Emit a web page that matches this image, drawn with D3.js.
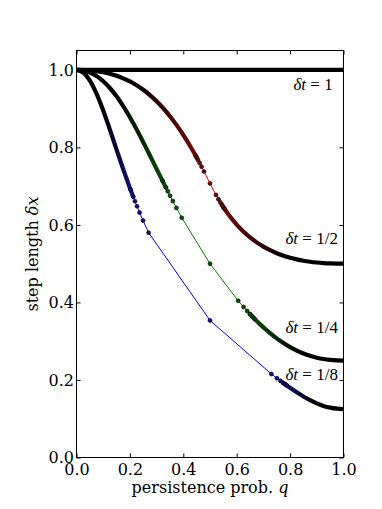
<!DOCTYPE html>
<html><head><meta charset="utf-8">
<script src="https://cdn.jsdelivr.net/npm/d3@7"></script>
<style>body{margin:0;background:#fff}</style>
</head><body>
<svg id="c" width="382" height="509"></svg>
<script>
// ---- data ----
const xTicks = [0, 0.2, 0.4, 0.6, 0.8, 1.0];
const yTicks = [0, 0.2, 0.4, 0.6, 0.8, 1.0];
const seriesNames = ["1", "1/2", "1/4", "1/8"];

// delta t = 1
const oneQ  = [0, 0.25, 0.5, 0.75, 1];
const oneDx = [1, 1, 1, 1, 1];

// delta t = 1/2 (red)
const halfBandQ  = [0, .025, .05, .075, .1, .125, .15, .175, .2, .225, .25, .275, .3, .325, .35, .375, .4, .4134, .42929, .43675, .44523, .45,
                    .54472, .55, .55477, .56325, .57071, .5866, .6, .625, .65, .675, .7, .725, .75, .775, .8, .825, .85, .875, .9, .925, .95, .975, 1];
const halfBandDx = [1, .99967, .99862, .99673, .99388, .98995, .98478, .97824, .97014, .96035, .94868, .935, .91915, .901, .88047, .85749, .83205, .81741, .79915, .79025, .7799, .77395,
                    .65165, .64603, .64111, .63271, .62566, .61169, .60093, .5831, .56788, .55494, .54399, .53476, .52705, .52065, .51539, .51113, .50772, .50507, .50308, .50164, .50069, .50016, .5];
const halfDotQ  = [.44523, .45, .45528, .46127, .46838, .47764, .5, .52236, .53162, .53873, .54472, .55, .55477];
const halfDotDx = [.7799, .77395, .76729, .7596, .75033, .73799, .70711, .67751, .66637, .65823, .65165, .64603, .64111];

// delta t = 1/4 (green)
const quarterBandQ  = [0, .025, .05, .075, .1, .125, .15, .175, .2, .225, .25, .27639, .29191, .31197, .32217, .33451,
                       .64953, .65811, .66549, .67783, .68803, .70809, .72361, .75, .775, .8, .825, .85, .875, .9, .925, .95, .975, 1];
const quarterBandDx = [1, .99837, .99317, .98403, .97077, .95329, .93171, .90639, .8778, .84659, .81349, .77728, .75571, .72783, .71374, .69683,
                       .37023, .364, .35877, .35027, .34348, .33081, .32164, .30732, .2953, .2848, .27582, .26832, .26225, .25753, .25406, .25172, .25041, .25];
const quarterDotQ  = [.32217, .33451, .34189, .35047, .36084, .37426, .39426, .5, .60574, .62574, .63916, .64953, .65811, .66549];
const quarterDotDx = [.71374, .69683, .68681, .67526, .66148, .64394, .61852, .5, .40419, .38824, .37794, .37023, .364, .35877];

// delta t = 1/8 (blue)
const eighthBandQ  = [0, .025, .05, .075, .1, .125, .15, .175, .1934, .20182, .21235,
                      .77343, .78117, .78765, .79818, .8066, .825, .85, .875, .9, .925, .95, .975, 1];
const eighthBandDx = [1, .99318, .97241, .93883, .8954, .84602, .79443, .74356, .70774, .69197, .67281,
                      .1929, .18901, .18579, .18064, .17662, .16811, .15735, .14775, .1396, .13314, .12855, .12586, .125];
const eighthDotQ  = [.20182, .21235, .21883, .22657, .23622, .24925, .27006, .5, .72994, .75075, .76378, .77343, .78117, .78765];
const eighthDotDx = [.69197, .67281, .66135, .64802, .63194, .61114, .58009, .35355, .21548, .20454, .1978, .1929, .18901, .18579];

// ---- layout ----
const W = 382, H = 509, L = 76.5, R = 343.5, T = 50.5, B = 457.5;
const x = d3.scaleLinear().domain([0, 1]).range([L, R]);
const y = d3.scaleLinear().domain([0, 1.05]).range([B, T]);

const svg = d3.select('#c');
svg.append('rect').attr('width', W).attr('height', H).attr('fill', '#fff');
const defs = svg.append('defs');
defs.append('clipPath').attr('id', 'clip').append('rect')
  .attr('x', L).attr('y', T).attr('width', R - L).attr('height', B - T);

const series = [
  {name: seriesNames[0], bq: oneQ, bd: oneDx, dq: [], dd: [], color: '#000', tint: '#000', lx: 0.9596, ly: 0.948},
  {name: seriesNames[1], bq: halfBandQ, bd: halfBandDx, dq: halfDotQ, dd: halfDotDx, color: '#ff0000', tint: '#6e0d0d', lx: 0.979, ly: 0.551},
  {name: seriesNames[2], bq: quarterBandQ, bd: quarterBandDx, dq: quarterDotQ, dd: quarterDotDx, color: '#008000', tint: '#0d4d0d', lx: 0.979, ly: 0.321},
  {name: seriesNames[3], bq: eighthBandQ, bd: eighthBandDx, dq: eighthDotQ, dd: eighthDotDx, color: '#0000ff', tint: '#12127a', lx: 0.979, ly: 0.2}
];

const plot = svg.append('g').attr('clip-path', 'url(#clip)');
const lineLin = d3.line().x(d => x(d[0])).y(d => y(d[1]));
const lineSmooth = d3.line().x(d => x(d[0])).y(d => y(d[1])).curve(d3.curveCatmullRom.alpha(0.5));

series.forEach((s, i) => {
  const band = s.bq.map((q, j) => [q, s.bd[j]]);
  const dots = s.dq.map((q, j) => [q, s.dd[j]]);
  // split band into continuous pieces (only where a sparse run of markers sits in between)
  const pieces = [];
  let cur = [];
  band.forEach((p, j) => {
    if (dots.length && j > 0 && p[0] - band[j - 1][0] > 0.05) { pieces.push(cur); cur = []; }
    cur.push(p);
  });
  pieces.push(cur);
  // gradient: black where markers are densest, tinted near the sparse part
  const grad = defs.append('linearGradient').attr('id', 'g' + i)
    .attr('gradientUnits', 'userSpaceOnUse')
    .attr('x1', x(0)).attr('x2', x(1)).attr('y1', 0).attr('y2', 0);
  if (pieces.length === 2) {
    const qL = pieces[0][pieces[0].length - 1][0], qR = pieces[1][0][0];
    [[0, '#000'], [qL * 0.45, '#000'], [qL, s.tint], [qR, s.tint], [qR + (1 - qR) * 0.55, '#000'], [1, '#000']]
      .forEach(st => grad.append('stop').attr('offset', st[0]).attr('stop-color', st[1]));
  } else {
    [[0, '#000'], [1, '#000']].forEach(st => grad.append('stop').attr('offset', st[0]).attr('stop-color', st[1]));
  }
  // thin connecting line through all points
  const all = band.concat(dots).sort((a, b) => a[0] - b[0]);
  plot.append('path').attr('d', lineLin(all)).attr('fill', 'none')
    .attr('stroke', s.color).attr('stroke-width', 1);
  // dense marker band
  pieces.forEach(pc => {
    plot.append('path').attr('d', lineSmooth(pc)).attr('fill', 'none')
      .attr('stroke', 'url(#g' + i + ')').attr('stroke-width', 4.2)
      .attr('stroke-linecap', 'round').attr('stroke-linejoin', 'round');
  });
  // separate markers
  plot.selectAll(null).data(dots).enter().append('circle')
    .attr('cx', d => x(d[0])).attr('cy', d => y(d[1])).attr('r', 2)
    .attr('fill', s.tint).attr('stroke', '#000').attr('stroke-width', 0.6);
});

// ---- axes ----
const fmt = d3.format('.1f');
function styleAxis(g) {
  g.select('.domain').remove();
  g.attr('font-family', 'DejaVu Serif').attr('font-size', 16);
  g.selectAll('line').attr('stroke', '#000');
  g.selectAll('text').attr('fill', '#000');
}
svg.append('g').attr('transform', `translate(0,${B})`)
  .call(d3.axisBottom(x).tickValues(xTicks).tickFormat(fmt).tickSizeInner(-4).tickSizeOuter(0).tickPadding(6.6))
  .call(styleAxis);
svg.append('g').attr('transform', `translate(${L},0)`)
  .call(d3.axisLeft(y).tickValues(yTicks).tickFormat(fmt).tickSizeInner(-4).tickSizeOuter(0).tickPadding(2.5))
  .call(styleAxis);
svg.append('g').attr('transform', `translate(0,${T})`)
  .call(d3.axisTop(x).tickValues(xTicks).tickFormat(() => '').tickSizeInner(-4).tickSizeOuter(0))
  .call(styleAxis);
svg.append('g').attr('transform', `translate(${R},0)`)
  .call(d3.axisRight(y).tickValues(yTicks).tickFormat(() => '').tickSizeInner(-4).tickSizeOuter(0))
  .call(styleAxis);

svg.append('rect').attr('x', L).attr('y', T).attr('width', R - L).attr('height', B - T)
  .attr('fill', 'none').attr('stroke', '#000').attr('stroke-width', 1);

// ---- series labels ----
series.forEach(s => {
  const t = svg.append('text').attr('x', x(s.lx)).attr('y', y(s.ly))
    .attr('text-anchor', 'end').attr('font-family', 'Liberation Serif').attr('font-size', 17).attr('fill', '#000');
  t.append('tspan').attr('font-style', 'italic').text('δt');
  t.append('tspan').text(' = ' + s.name);
});

// ---- axis titles ----
const xl = svg.append('text').attr('x', (L + R) / 2).attr('y', 493)
  .attr('text-anchor', 'middle').attr('font-family', 'DejaVu Serif').attr('font-size', 16).attr('fill', '#000');
xl.append('tspan').text('persistence prob. ');
xl.append('tspan').attr('font-style', 'italic').text('q');

const yl = svg.append('text').attr('transform', `translate(38,${(T + B) / 2}) rotate(-90)`)
  .attr('text-anchor', 'middle').attr('font-family', 'DejaVu Serif').attr('font-size', 16).attr('fill', '#000');
yl.append('tspan').text('step length ');
yl.append('tspan').attr('font-style', 'italic').text('δx');
</script>
</body></html>
